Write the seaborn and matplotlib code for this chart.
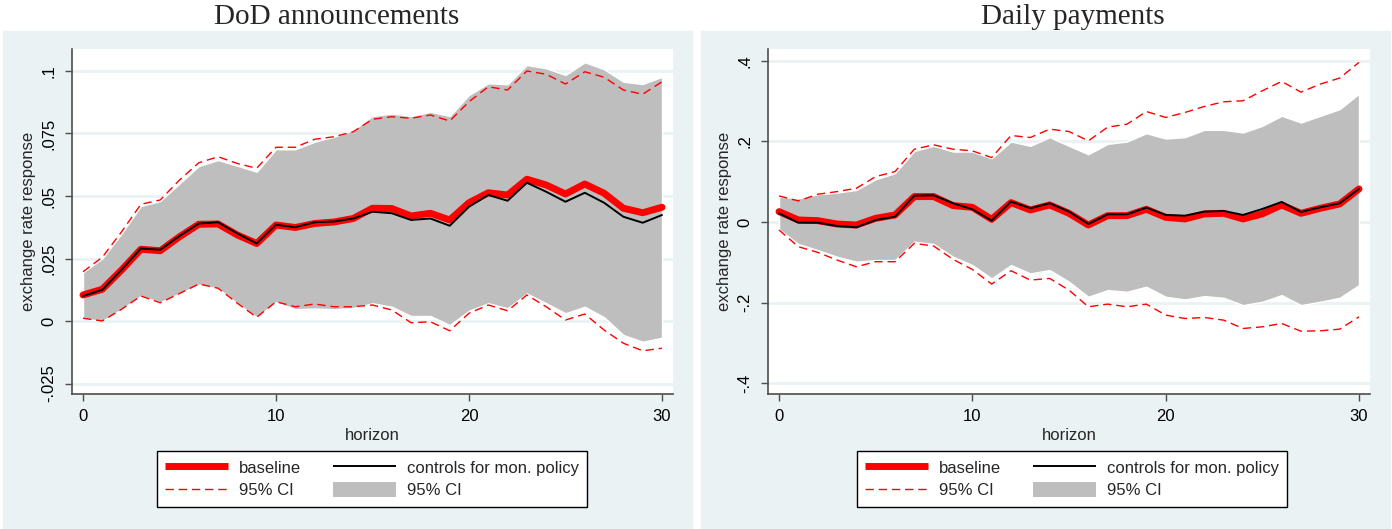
import matplotlib.pyplot as plt
import seaborn as sns
from matplotlib.lines import Line2D
from matplotlib.patches import Patch, Rectangle

horizon = list(range(31))

# DoD announcements
dod_base = [0.0104, 0.0127, 0.0204, 0.0287, 0.0281, 0.0337, 0.0387, 0.0388, 0.0344, 0.0310, 0.0384,
            0.0374, 0.0390, 0.0396, 0.0410, 0.0451, 0.0450, 0.0420, 0.0431, 0.0404, 0.0473,
            0.0513, 0.0504, 0.0567, 0.0544, 0.0508, 0.0548, 0.0511, 0.0451, 0.0433, 0.0455]
dod_ctrl = [0.0100, 0.0125, 0.0205, 0.0290, 0.0285, 0.0340, 0.0390, 0.0395, 0.0350, 0.0310, 0.0385,
            0.0375, 0.0395, 0.0398, 0.0410, 0.0437, 0.0431, 0.0404, 0.0410, 0.0381, 0.0457,
            0.0504, 0.0481, 0.0553, 0.0517, 0.0477, 0.0513, 0.0473, 0.0417, 0.0393, 0.0424]
dod_hi = [0.0197, 0.0255, 0.0357, 0.0467, 0.0484, 0.0564, 0.0633, 0.0657, 0.0630, 0.0611, 0.0695,
          0.0695, 0.0727, 0.0737, 0.0757, 0.0807, 0.0817, 0.0811, 0.0824, 0.0800, 0.0877,
          0.0937, 0.0924, 0.1000, 0.0987, 0.0948, 0.0997, 0.0975, 0.0924, 0.0907, 0.0957]
dod_lo = [0.0011, 0.0000, 0.0047, 0.0100, 0.0073, 0.0110, 0.0148, 0.0131, 0.0071, 0.0015, 0.0077,
          0.0057, 0.0068, 0.0057, 0.0057, 0.0064, 0.0044, -0.0007, -0.0003, -0.0039, 0.0031,
          0.0064, 0.0041, 0.0104, 0.0057, 0.0004, 0.0028, -0.0036, -0.0089, -0.0119, -0.0109]
dod_ctrl_hi = [0.0195, 0.0250, 0.0350, 0.0460, 0.0480, 0.0550, 0.0620, 0.0644, 0.0621, 0.0597, 0.0687,
               0.0687, 0.0717, 0.0737, 0.0764, 0.0820, 0.0830, 0.0820, 0.0837, 0.0820, 0.0904,
               0.0951, 0.0947, 0.1024, 0.1011, 0.0984, 0.1035, 0.1007, 0.0957, 0.0948, 0.0977]
dod_ctrl_lo = [0.0010, 0.0000, 0.0047, 0.0100, 0.0075, 0.0110, 0.0145, 0.0130, 0.0070, 0.0015, 0.0075,
               0.0047, 0.0050, 0.0047, 0.0052, 0.0071, 0.0057, 0.0020, 0.0020, -0.0016, 0.0041,
               0.0071, 0.0051, 0.0110, 0.0071, 0.0031, 0.0057, 0.0015, -0.0056, -0.0083, -0.0067]
dod_yticks = [-0.025, 0, 0.025, 0.05, 0.075, 0.1]
dod_ylabels = ['-.025', '0', '.025', '.05', '.075', '.1']

# Daily payments
pay_base = [0.0257, 0.0050, 0.0033, -0.0050, -0.0075, 0.0091, 0.0174, 0.0630, 0.0630, 0.0406, 0.0364,
            0.0066, 0.0480, 0.0298, 0.0422, 0.0215, -0.0075, 0.0157, 0.0157, 0.0315, 0.0116,
            0.0075, 0.0200, 0.0215, 0.0075, 0.0200, 0.0422, 0.0215, 0.0340, 0.0447, 0.0820]
pay_ctrl = [0.0215, -0.0017, -0.0017, -0.0099, -0.0132, 0.0050, 0.0132, 0.0654, 0.0662, 0.0464, 0.0315,
            0.0033, 0.0505, 0.0340, 0.0464, 0.0257, -0.0050, 0.0190, 0.0190, 0.0356, 0.0174,
            0.0157, 0.0257, 0.0273, 0.0174, 0.0323, 0.0497, 0.0248, 0.0364, 0.0464, 0.0820]
pay_hi = [0.0646, 0.0522, 0.0687, 0.0753, 0.0836, 0.1126, 0.1250, 0.1805, 0.1913, 0.1805, 0.1764,
          0.1598, 0.2145, 0.2095, 0.2302, 0.2244, 0.2012, 0.2352, 0.2426, 0.2740, 0.2592,
          0.2716, 0.2865, 0.2981, 0.3006, 0.3254, 0.3486, 0.3221, 0.3420, 0.3569, 0.3958]
pay_lo = [-0.0199, -0.0613, -0.0753, -0.0944, -0.1110, -0.0985, -0.0985, -0.0530, -0.0596, -0.0927, -0.1176,
          -0.1540, -0.1209, -0.1441, -0.1400, -0.1690, -0.2103, -0.2037, -0.2103, -0.2037, -0.2310,
          -0.2393, -0.2368, -0.2434, -0.2641, -0.2600, -0.2517, -0.2708, -0.2699, -0.2658, -0.2352]
pay_ctrl_hi = [0.0630, 0.0588, 0.0687, 0.0729, 0.0795, 0.1060, 0.1210, 0.1764, 0.1888, 0.1747, 0.1747,
               0.1581, 0.1995, 0.1888, 0.2103, 0.1888, 0.1680, 0.1938, 0.1995, 0.2202, 0.2070,
               0.2103, 0.2285, 0.2285, 0.2219, 0.2385, 0.2633, 0.2467, 0.2633, 0.2799, 0.3180]
pay_ctrl_lo = [-0.0182, -0.0546, -0.0696, -0.0861, -0.0985, -0.0944, -0.0944, -0.0489, -0.0546, -0.0861, -0.1068,
               -0.1400, -0.1068, -0.1275, -0.1192, -0.1482, -0.1855, -0.1690, -0.1730, -0.1606, -0.1855,
               -0.1921, -0.1838, -0.1880, -0.2062, -0.1979, -0.1813, -0.2062, -0.1979, -0.1880, -0.1565]
pay_yticks = [-0.4, -0.2, 0, 0.2, 0.4]
pay_ylabels = ['-.4', '-.2', '0', '.2', '.4']

xticks = [0, 10, 20, 30]

sns.set_style('ticks')
plt.rcParams['font.family'] = ['Liberation Sans', 'DejaVu Sans']

BG = '#EAF2F3'
GREY = '#BEBEBE'
AXC = '#4d4d4d'
W, H = 1392, 529

fig = plt.figure(figsize=(13.92, 5.29), dpi=100)
fig.patch.set_facecolor('white')


def px(x0, y0, x1, y1):
    return [x0 / W, 1 - y1 / H, (x1 - x0) / W, (y1 - y0) / H]


# light panel backgrounds
for x0, x1 in [(3, 692), (701, 1390)]:
    fig.add_artist(Rectangle((x0 / W, 0), (x1 - x0) / W, 1 - 31 / H,
                             transform=fig.transFigure, color=BG, zorder=-5))


def panel(rect, base, ctrl, lo, hi, clo, chi, yticks, ylabels, ylim, title, title_x, leg_x):
    ax = fig.add_axes(px(*rect))
    ax.set_facecolor('white')
    ax.yaxis.grid(True, color=BG, lw=2)
    ax.set_axisbelow(True)

    ax.fill_between(horizon, clo, chi, color=GREY, edgecolor='white', lw=1, zorder=2)
    sns.lineplot(x=horizon, y=lo, ax=ax, color='red', lw=1, zorder=3)
    sns.lineplot(x=horizon, y=hi, ax=ax, color='red', lw=1, zorder=3)
    for ln in ax.lines[-2:]:
        ln.set_dashes((6, 3.5))
    sns.lineplot(x=horizon, y=base, ax=ax, color='red', lw=5, zorder=4,
                 solid_capstyle='round', solid_joinstyle='round')
    sns.lineplot(x=horizon, y=ctrl, ax=ax, color='black', lw=1.4, zorder=5)

    ax.set_xlim(-0.57, 30.57)
    ax.set_ylim(*ylim)
    ax.set_xticks(xticks)
    ax.set_yticks(yticks)
    ax.set_yticklabels(ylabels, rotation=90, va='center')
    ax.tick_params(length=5, width=1, color=AXC, pad=6, labelsize=12, labelcolor='black')
    for s in ['top', 'right']:
        ax.spines[s].set_visible(False)
    for s in ['left', 'bottom']:
        ax.spines[s].set_color(AXC)
        ax.spines[s].set_linewidth(1.2)
    ax.set_xlabel('horizon', fontsize=12, labelpad=3)
    ax.set_ylabel('exchange rate response', fontsize=12, labelpad=4)

    fig.text(title_x / W, 1 - 17 / H, title, family=['Liberation Serif', 'DejaVu Serif'],
             fontsize=21, ha='center', va='center')

    handles = [Line2D([], [], color='red', lw=5, solid_capstyle='butt'),
               Line2D([], [], color='red', lw=1, dashes=(6, 3.5)),
               Line2D([], [], color='black', lw=1.4, solid_capstyle='butt'),
               Patch(facecolor=GREY, edgecolor='none')]
    labels = ['baseline', '95% CI', 'controls for mon. policy', '95% CI']
    leg = fig.legend(handles, labels, loc='center', bbox_to_anchor=(leg_x / W, 1 - 479 / H),
                     ncol=2, fontsize=12, frameon=True, fancybox=False, framealpha=1,
                     edgecolor='black', handlelength=3.8, handleheight=1.0,
                     handletextpad=0.65, columnspacing=1.9, borderpad=0.5, labelspacing=0.38)
    leg.get_frame().set_linewidth(1)
    return ax


panel((72, 49, 673, 394), dod_base, dod_ctrl, dod_lo, dod_hi, dod_ctrl_lo, dod_ctrl_hi,
      dod_yticks, dod_ylabels, (-0.0292, 0.1088), 'DoD announcements', 337, 372)
panel((768, 49, 1370, 394), pay_base, pay_ctrl, pay_lo, pay_hi, pay_ctrl_lo, pay_ctrl_hi,
      pay_yticks, pay_ylabels, (-0.4266, 0.429), 'Daily payments', 1073, 1072)

fig.savefig('out.png', dpi=100)
